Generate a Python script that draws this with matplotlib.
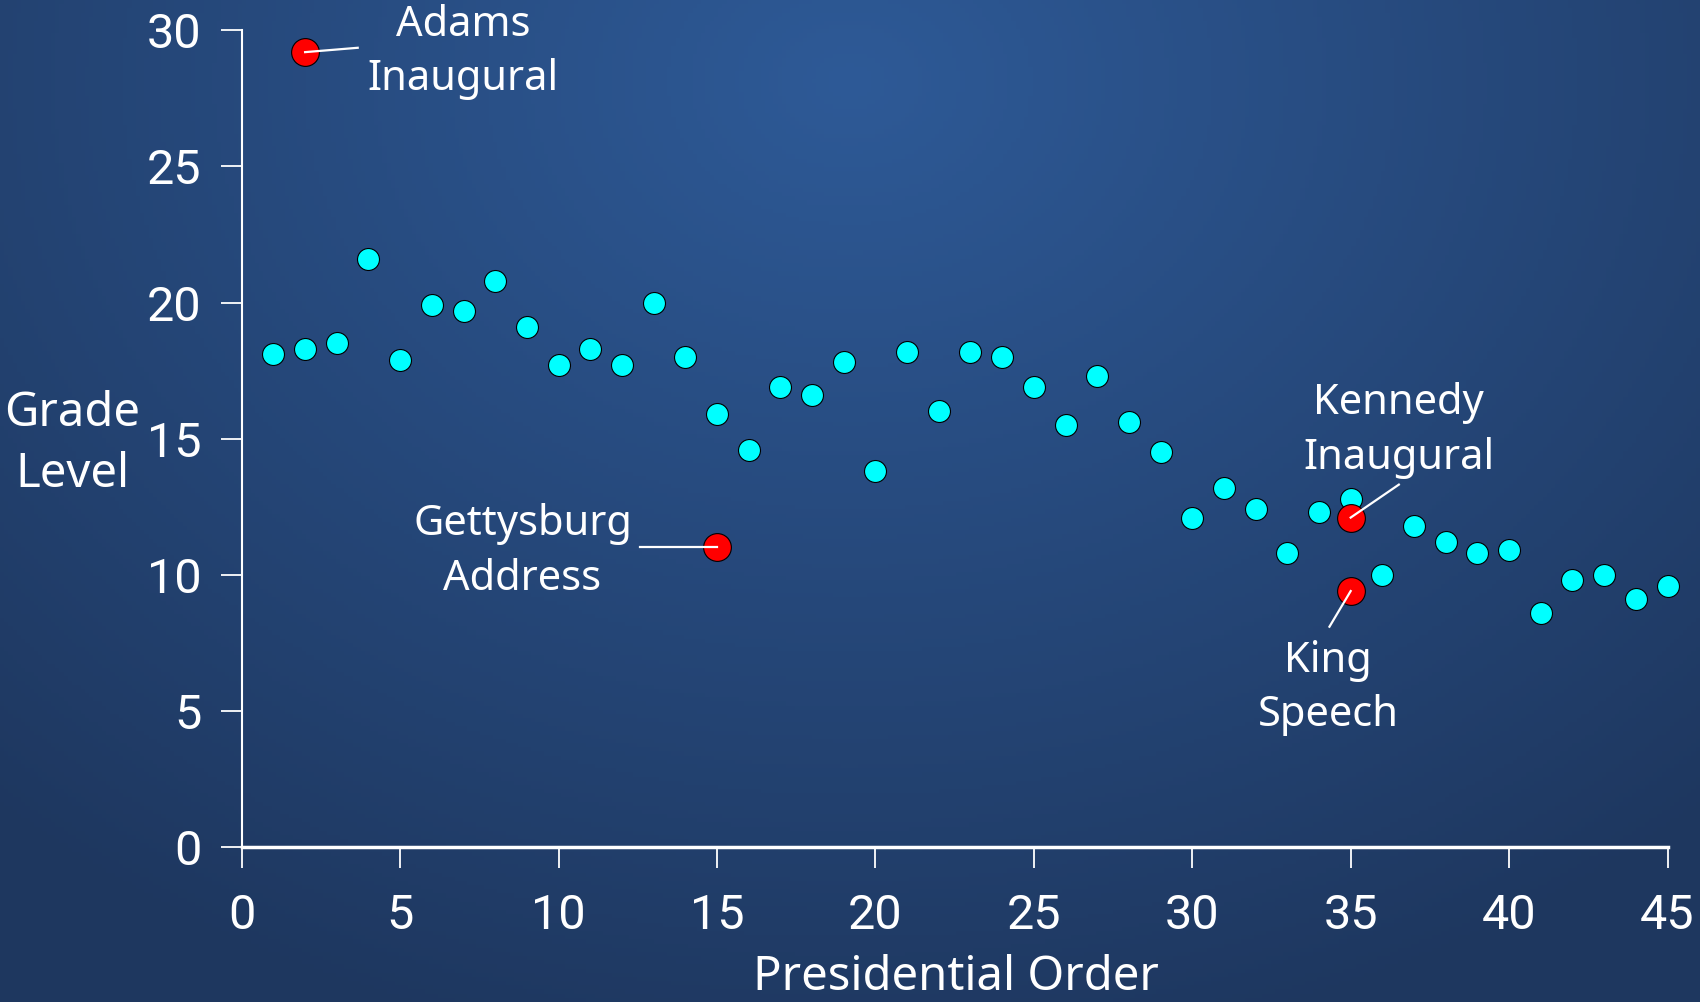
import numpy as np
import matplotlib
matplotlib.use('Agg')
import matplotlib.pyplot as plt

# presidential order vs grade level of inaugural addresses
order = list(range(1, 46))
grade = [18.1, 18.3, 18.5, 21.6, 17.9, 19.9, 19.7, 20.8, 19.1, 17.7,
         18.3, 17.7, 20.0, 18.0, 15.9, 14.6, 16.9, 16.6, 17.8, 13.8,
         18.2, 16.0, 18.2, 18.0, 16.9, 15.5, 17.3, 15.6, 14.5, 12.1,
         13.2, 12.4, 10.8, 12.3, 12.8, 10.0, 11.8, 11.2, 10.8, 10.9,
         8.6, 9.8, 10.0, 9.1, 9.6]

hl_names = ['Adams\nInaugural', 'Gettysburg\nAddress', 'Kennedy\nInaugural', 'King\nSpeech']
hl_x = [2, 15, 35, 35]
hl_y = [29.2, 11.0, 12.1, 9.4]

xticks = [0, 5, 10, 15, 20, 25, 30, 35, 40, 45]
yticks = [0, 5, 10, 15, 20, 25, 30]

plt.rcParams['font.family'] = ['Noto Sans', 'DejaVu Sans']
tickfont = ['Roboto', 'DejaVu Sans']

fig = plt.figure(figsize=(17, 10.02), dpi=100)

# background radial gradient
bg = fig.add_axes([0, 0, 1, 1], zorder=-5)
gx, gy = np.meshgrid(np.linspace(0, 1, 400), np.linspace(0, 1, 240))
r = np.sqrt(((gx - 0.5) / 0.75) ** 2 + ((gy - 0.08) / 1.0) ** 2)
r = np.clip(r, 0, 1)
c_in = np.array([0x2e, 0x5a, 0x97]) / 255.0
c_out = np.array([0x1e, 0x37, 0x5f]) / 255.0
img = c_in[None, None, :] * (1 - r[..., None]) + c_out[None, None, :] * r[..., None]
bg.imshow(img, aspect='auto', extent=[0, 1, 1, 0])
bg.axis('off')

ax = fig.add_axes([0.1422, 0.1548, 0.8387, 0.8149])
ax.patch.set_alpha(0)
ax.scatter(order, grade, s=250, color='#00ffff', edgecolors='black', linewidths=0.8, zorder=3, clip_on=False)
ax.scatter(hl_x, hl_y, s=400, color='#ff0000', edgecolors='black', linewidths=0.8, zorder=4, clip_on=False)

# label positions (data coords) and leader line ends
txt_pos = [(6.98, 29.2), (8.86, 10.85), (36.52, 15.3), (34.29, 5.85)]
line_end = [(3.66, 29.36), (12.56, 11.0), (36.52, 13.31), (34.33, 8.09)]
for name, px, py, tp, le in zip(hl_names, hl_x, hl_y, txt_pos, line_end):
    ax.plot([px, le[0]], [py, le[1]], color='white', lw=1.6, zorder=5, clip_on=False)
    ax.text(tp[0], tp[1], name, color='white', fontsize=30, ha='center', va='center',
            linespacing=1.38, zorder=6)

ax.set_xlim(0, 45)
ax.set_ylim(0, 30)
ax.set_xticks(xticks)
ax.set_yticks(yticks)
for s in ['top', 'right']:
    ax.spines[s].set_visible(False)
ax.spines['left'].set_color('white')
ax.spines['left'].set_linewidth(1.5)
ax.spines['bottom'].set_color('white')
ax.spines['bottom'].set_linewidth(2.5)
ax.tick_params(axis='both', colors='white', length=15, width=1.3, direction='out')
ax.tick_params(axis='x', pad=18)
ax.tick_params(axis='y', pad=14)
for lab in ax.get_xticklabels() + ax.get_yticklabels():
    lab.set_fontfamily(tickfont)
    lab.set_fontsize(35)
    lab.set_color('white')

fig.text(0.0427, 0.557, 'Grade\nLevel', color='white', fontsize=34, ha='center', va='center', linespacing=1.38)
fig.text(0.5625, 0.024, 'Presidential Order', color='white', fontsize=34, ha='center', va='center')

fig.savefig('out.png', dpi=100)
